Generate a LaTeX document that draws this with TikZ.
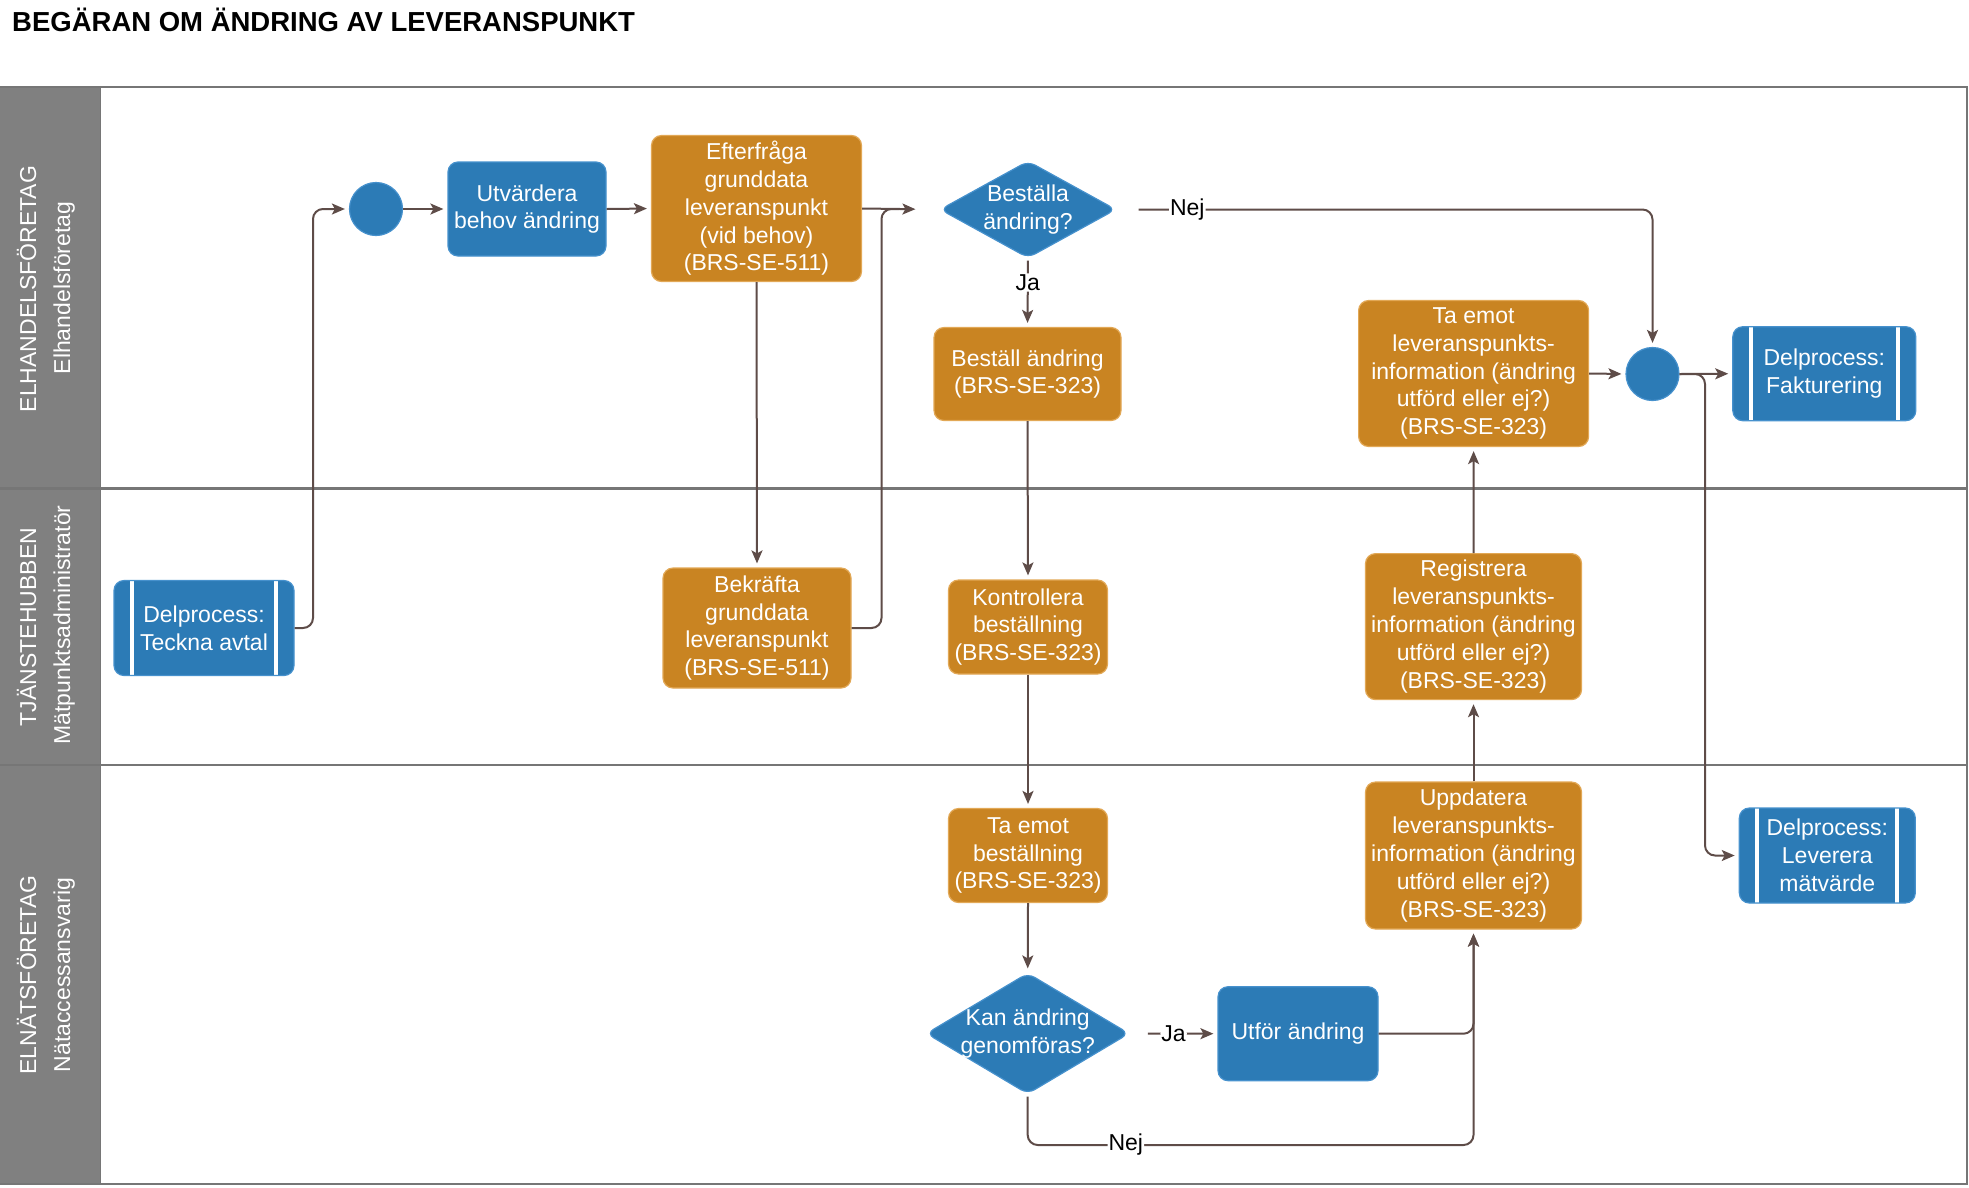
\documentclass[tikz,border=0pt]{standalone}
\usepackage{fontspec}
\setmainfont{Liberation Sans}
\usetikzlibrary{arrows.meta,shapes.geometric,calc}
\definecolor{orangebox}{RGB}{201,132,34}
\definecolor{orangeedge}{RGB}{226,168,86}
\definecolor{bluebox}{RGB}{44,123,182}
\definecolor{blueedge}{RGB}{70,145,205}
\definecolor{linec}{RGB}{94,76,72}
\definecolor{lanegray}{RGB}{128,128,128}
\definecolor{laneline}{RGB}{118,118,118}
\begin{document}
\begin{tikzpicture}[x=1pt,y=-1pt,
  txt/.style={font=\fontsize{23}{27.8}\selectfont, text=white, align=center},
  obox/.style={txt, rectangle, rounded corners=10pt, fill=orangebox, draw=orangeedge, line width=1.2pt, inner sep=0pt},
  bbox/.style={txt, rectangle, rounded corners=10pt, fill=bluebox, draw=blueedge, line width=1.2pt, inner sep=0pt},
  subproc/.style={bbox, path picture={
      \draw[white, line width=4pt] ([xshift=18pt]path picture bounding box.north west) -- ([xshift=18pt]path picture bounding box.south west);
      \draw[white, line width=4pt] ([xshift=-18pt]path picture bounding box.north east) -- ([xshift=-18pt]path picture bounding box.south east);}},
  decision/.style={txt, diamond, rounded corners=8pt, fill=bluebox, draw=blueedge, line width=1.2pt, inner sep=-30pt},
  evt/.style={circle, fill=bluebox, draw=blueedge, line width=1.2pt, minimum size=53pt, inner sep=0pt},
  lanetxt/.style={font=\fontsize{23}{27.8}\selectfont, text=white, rotate=90, anchor=base, inner sep=0pt},
  lbl/.style={font=\fontsize{23}{27.8}\selectfont, text=black, fill=white, inner sep=1pt},
  conn/.style={draw=linec, line width=2pt, rounded corners=10pt, -{Stealth[length=13pt,width=11pt,inset=3pt]}, shorten >=4pt},
  plain/.style={draw=linec, line width=2pt, rounded corners=10pt}
]
\useasboundingbox (0,0) rectangle (1969,1187);
\fill[white] (0,0) rectangle (1969,1187);

% title
\node[font=\fontsize{27.5}{33}\selectfont\bfseries, anchor=base west, inner sep=0pt] (title) at (12,31) {BEGÄRAN OM ÄNDRING AV LEVERANSPUNKT};

% lanes
\fill[lanegray] (0,87) rectangle (100,1184);
\draw[laneline, line width=1pt] (100,87) -- (100,1184);
\draw[laneline, line width=2.5pt] (0,87) -- (1967,87) -- (1967,1184) -- (0,1184);
\draw[laneline, line width=2.5pt] (0,488.5) -- (1967,488.5);
\draw[laneline, line width=2.5pt] (0,765) -- (1967,765);

\node[lanetxt] (l1a) at (36,289) {ELHANDELSFÖRETAG};
\node[lanetxt] (l1b) at (70,288) {Elhandelsföretag};
\node[lanetxt] (l2a) at (36,627) {TJÄNSTEHUBBEN};
\node[lanetxt] (l2b) at (70,625) {Mätpunktsadministratör};
\node[lanetxt] (l3a) at (36,975) {ELNÄTSFÖRETAG};
\node[lanetxt] (l3b) at (70,975) {Nätaccessansvarig};

% lane 1
\node[evt] (c1) at (376,209) {};
\node[bbox, minimum width=158pt, minimum height=94pt] (utv) at (527,209) {Utvärdera\\behov ändring};
\node[obox, minimum width=210pt, minimum height=146pt] (eft) at (756.5,208.5) {Efterfråga\\grunddata\\leveranspunkt\\(vid behov)\\(BRS-SE-511)};
\node[decision, minimum width=176pt, minimum height=97pt] (best) at (1028,209.5) {Beställa\\ändring?};
\node[obox, minimum width=187pt, minimum height=93pt] (bes) at (1027.5,374) {Beställ ändring\\(BRS-SE-323)};
\node[obox, minimum width=230pt, minimum height=146pt] (tal) at (1473.6,373.5) {Ta emot\\leveranspunkts-\\information (ändring\\utförd eller ej?)\\(BRS-SE-323)};
\node[evt] (c2) at (1652.5,374) {};
\node[subproc, minimum width=183pt, minimum height=94pt] (fak) at (1824.3,373.7) {Delprocess:\\Fakturering};

% lane 2
\node[subproc, minimum width=180pt, minimum height=95pt] (tec) at (204,628) {Delprocess:\\Teckna avtal};
\node[obox, minimum width=188pt, minimum height=120pt] (bek) at (757,628) {Bekräfta\\grunddata\\leveranspunkt\\(BRS-SE-511)};
\node[obox, minimum width=159pt, minimum height=94pt] (kon) at (1028,627) {Kontrollera\\beställning\\(BRS-SE-323)};
\node[obox, minimum width=216pt, minimum height=146pt] (reg) at (1473.5,626.6) {Registrera\\leveranspunkts-\\information (ändring\\utförd eller ej?)\\(BRS-SE-323)};

% lane 3
\node[obox, minimum width=159pt, minimum height=94pt] (tae) at (1028,855.5) {Ta emot\\beställning\\(BRS-SE-323)};
\node[obox, minimum width=216pt, minimum height=147pt] (upp) at (1473.5,855.5) {Uppdatera\\leveranspunkts-\\information (ändring\\utförd eller ej?)\\(BRS-SE-323)};
\node[decision, minimum width=203pt, minimum height=121pt] (kan) at (1027.7,1033.5) {Kan ändring\\genomföras?};
\node[bbox, minimum width=160pt, minimum height=94pt] (utf) at (1298,1033.7) {Utför ändring};
\node[subproc, minimum width=176pt, minimum height=95pt] (lev) at (1827.3,855.5) {Delprocess:\\Leverera\\mätvärde};

% connectors
\coordinate (j1) at (313,209);
\draw[conn] (tec.east) -| (j1) -- (c1.west);
\draw[conn] (c1.east) -- (utv.west);
\draw[conn] (utv.east) -- (eft.west);
\draw[conn, shorten >=24pt] (eft.east) -- (best.west);
\coordinate (j2) at (881.5,209);
\draw[plain] (bek.east) -| (j2) -- ($(j2)+(18,0)$);
\draw[conn] (eft.south) -- (bek.north);
\draw[conn, shorten <=2pt] (best.south) -- node[lbl, pos=0.35] (ja1) {Ja} (bes.north);
\draw[conn, shorten <=22pt] (best.east) -| node[lbl, pos=0.066] (nej1) {Nej} (c2.north);
\draw[conn] (bes.south) -- (kon.north);
\draw[conn] (kon.south) -- (tae.north);
\draw[conn] (tae.south) -- (kan.north);
\draw[conn, shorten <=18pt] (kan.east) -- node[lbl, pos=0.5] (ja2) {Ja} (utf.west);
\coordinate (j3) at (1473.5,1145);
\draw[conn, shorten <=2pt] (kan.south) |- node[lbl, pos=0.61] (nej2) {Nej} (j3) -- (upp.south);
\draw[conn] (utf.east) -| (upp.south);
\draw[conn] (upp.north) -- (reg.south);
\draw[conn] (reg.north) -- (tal.south);
\draw[conn] (tal.east) -- (c2.west);
\draw[conn] (c2.east) -- (fak.west);
\coordinate (j4) at (1705,374);
\draw[conn] (c2.east) -- (j4) |- (lev.west);
\end{tikzpicture}
\end{document}
